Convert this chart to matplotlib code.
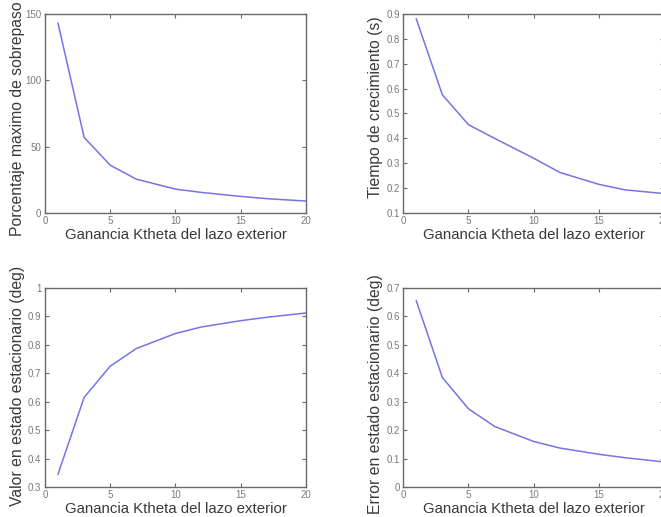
import matplotlib
matplotlib.use("Agg")
import matplotlib.pyplot as plt
from matplotlib.ticker import FuncFormatter

# Outer-loop gain values and the step-response metrics measured at each one
ktheta = [1, 3, 5, 7, 10, 12, 15, 17, 20]
overshoot_pct = [143, 57, 36, 25.5, 18, 15.5, 12.5, 10.8, 9]
rise_time_s = [0.88, 0.575, 0.455, 0.40, 0.32, 0.263, 0.215, 0.193, 0.178]
steady_value_deg = [0.345, 0.615, 0.725, 0.787, 0.84, 0.863, 0.885, 0.897, 0.912]
steady_error_deg = [0.655, 0.385, 0.275, 0.213, 0.16, 0.137, 0.115, 0.103, 0.088]

xlabel = "Ganancia Ktheta del lazo exterior"
ylabels = [
    "Porcentaje maximo de sobrepaso",
    "Tiempo de crecimiento (s)",
    "Valor en estado estacionario (deg)",
    "Error en estado estacionario (deg)",
]
series = [overshoot_pct, rise_time_s, steady_value_deg, steady_error_deg]
ylims = [(0, 150), (0.1, 0.9), (0.3, 1.0), (0, 0.7)]
yticks = [
    [0, 50, 100, 150],
    [0.1, 0.2, 0.3, 0.4, 0.5, 0.6, 0.7, 0.8, 0.9],
    [0.3, 0.4, 0.5, 0.6, 0.7, 0.8, 0.9, 1.0],
    [0, 0.1, 0.2, 0.3, 0.4, 0.5, 0.6, 0.7],
]
xticks = [0, 5, 10, 15, 20]

plt.rcParams["font.family"] = ["Liberation Sans", "DejaVu Sans"]

fig = plt.figure(figsize=(6.61, 5.17), dpi=100)
fig.patch.set_facecolor("white")

W, H = 0.395, 0.385
positions = [
    (0.068, 0.588, W, H),
    (0.610, 0.588, W, H),
    (0.068, 0.058, W, H),
    (0.610, 0.058, W, H),
]
# placement of each y label next to its axis (axes fraction)
ylabel_y = [0.472, 0.53, 0.51, 0.468]
ylabel_x = [-0.077, -0.077, -0.077, -0.077]

line_color = "#7474e6"
spine_color = "#6a6a6a"
tick_text = "#7a7a7a"
label_color = "#3a3a3a"

fmt = FuncFormatter(lambda v, p: "%g" % round(v, 3))

for pos, y, ylab, ylim, yt, ly, lx in zip(positions, series, ylabels, ylims,
                                          yticks, ylabel_y, ylabel_x):
    ax = fig.add_axes(pos)
    ax.plot(ktheta, y, color=line_color, lw=1.1)
    ax.set_xlim(0, 20)
    ax.set_ylim(*ylim)
    ax.set_xticks(xticks)
    ax.set_yticks(yt)
    ax.xaxis.set_major_formatter(fmt)
    ax.yaxis.set_major_formatter(fmt)
    ax.tick_params(direction="in", top=True, right=True, length=3,
                   width=0.8, colors=spine_color, labelcolor=tick_text,
                   labelsize=7, pad=2.5)
    for s in ax.spines.values():
        s.set_color(spine_color)
        s.set_linewidth(1.0)
    ax.set_xlabel(xlabel, fontsize=10.8, color=label_color, labelpad=1)
    ax.set_ylabel(ylab, fontsize=11.3, color=label_color)
    ax.yaxis.set_label_coords(lx, ly)

fig.savefig("out.png", dpi=100, facecolor="white")
